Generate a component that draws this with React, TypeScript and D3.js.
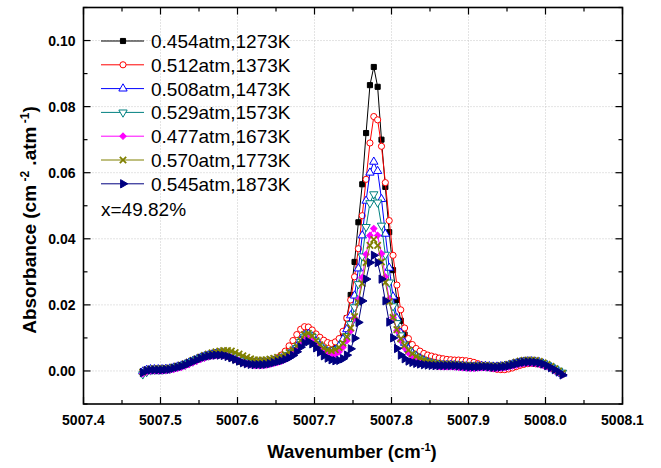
import * as d3 from "d3";

// wavenumber grid of the measured spectra (cm-1)
const wnStart = 5007.477;
const wnStep = 0.005;

// absorbance, in units of 1e-4 cm-2.atm-1, one value per grid point
const abs1273 = [
  -2, 2, 4, 4, 4, 4, 5, 6, 9, 12,
  15, 19, 24, 29, 34, 39, 43, 47, 49, 50,
  50, 48, 44, 39, 33, 28, 24, 22, 21, 21,
  21, 22, 24, 26, 29, 32, 36, 40, 46, 54,
  66, 82, 100, 106, 100, 88, 75, 66, 60, 62,
  72, 88, 115, 160, 230, 330, 450, 565, 720, 865,
  920, 860, 700, 557, 420, 305, 215, 152, 110, 82,
  64, 50, 40, 33, 28, 24, 21, 19, 18, 17,
  17, 17, 16, 15, 14, 13, 13, 13, 14, 14,
  13, 12, 12, 13, 14, 16, 19, 22, 25, 27,
  28, 28, 27, 25, 22, 17, 11, 5, -2, -10,
];
const abs1373 = [
  -3, 2, 5, 5, 5, 5, 6, 7, 10, 13,
  16, 20, 25, 30, 35, 40, 44, 48, 51, 53,
  54, 54, 52, 48, 43, 38, 33, 29, 26, 24,
  24, 25, 27, 30, 34, 40, 48, 60, 76, 92,
  110, 126, 134, 133, 124, 112, 102, 93, 86, 83,
  88, 98, 120, 160, 215, 285, 370, 470, 580, 690,
  770, 760, 680, 570, 455, 350, 260, 185, 130, 98,
  80, 68, 60, 53, 48, 45, 42, 39, 37, 35,
  34, 33, 33, 32, 31, 29, 26, 22, 18, 14,
  10, 7, 5, 4, 4, 6, 9, 13, 17, 20,
  22, 23, 22, 21, 18, 14, 9, 4, -2, -8,
];
const abs1473 = [
  -2, 3, 5, 5, 5, 5, 6, 7, 10, 13,
  16, 20, 25, 30, 35, 40, 44, 47, 50, 52,
  53, 53, 51, 48, 43, 38, 33, 29, 26, 25,
  24, 25, 26, 28, 31, 34, 38, 43, 50, 60,
  74, 92, 108, 112, 104, 90, 76, 65, 59, 58,
  64, 76, 96, 126, 168, 228, 310, 410, 515, 600,
  633, 605, 520, 415, 312, 225, 160, 115, 85, 66,
  54, 45, 38, 32, 27, 23, 21, 19, 18, 18,
  18, 17, 16, 15, 14, 13, 13, 14, 15, 15,
  14, 13, 13, 14, 15, 17, 20, 23, 26, 28,
  29, 29, 28, 26, 22, 17, 11, 5, -2, -9,
];
const abs1573 = [
  -10, -3, 2, 4, 4, 4, 5, 6, 9, 12,
  15, 19, 24, 29, 34, 39, 43, 47, 50, 52,
  53, 53, 52, 49, 44, 39, 34, 30, 27, 25,
  24, 24, 25, 27, 30, 33, 37, 42, 48, 57,
  70, 88, 104, 110, 103, 89, 74, 62, 55, 53,
  57, 66, 82, 106, 142, 193, 263, 347, 436, 508,
  535, 510, 440, 352, 268, 196, 145, 108, 80, 62,
  50, 41, 35, 30, 26, 23, 21, 20, 19, 18,
  18, 17, 16, 15, 14, 14, 14, 14, 15, 15,
  14, 13, 13, 14, 15, 17, 20, 23, 26, 28,
  29, 29, 28, 26, 23, 18, 13, 7, 1, -5,
];
const abs1673 = [
  -8, -3, 0, 1, 1, 1, 2, 3, 5, 8,
  11, 15, 20, 25, 30, 35, 39, 43, 46, 47,
  48, 47, 45, 41, 36, 31, 26, 22, 19, 17,
  17, 17, 18, 20, 23, 26, 30, 35, 41, 50,
  63, 80, 95, 100, 94, 81, 67, 56, 49, 47,
  50, 58, 72, 92, 122, 160, 216, 283, 353, 410,
  431, 410, 355, 285, 218, 162, 122, 92, 70, 55,
  44, 36, 30, 25, 21, 18, 16, 14, 13, 13,
  13, 12, 11, 10, 9, 8, 8, 9, 10, 10,
  9, 8, 8, 9, 10, 12, 15, 18, 21, 23,
  24, 24, 23, 21, 18, 14, 8, 2, -4, -11,
];
const abs1773 = [
  -3, 3, 6, 7, 7, 7, 8, 9, 12, 15,
  18, 22, 27, 32, 37, 42, 47, 51, 55, 58,
  60, 62, 62, 60, 56, 51, 46, 41, 37, 34,
  33, 33, 34, 36, 38, 41, 45, 50, 56, 64,
  76, 93, 110, 114, 106, 92, 79, 69, 63, 61,
  64, 71, 84, 104, 130, 165, 208, 265, 328, 380,
  398, 380, 330, 268, 210, 162, 125, 97, 78, 63,
  52, 44, 38, 33, 29, 26, 24, 22, 21, 21,
  21, 20, 19, 18, 17, 16, 16, 16, 17, 17,
  16, 15, 15, 16, 18, 20, 23, 27, 30, 32,
  33, 33, 32, 29, 25, 20, 14, 7, 0, -7,
];
const abs1873 = [
  -5, 1, 3, 3, 3, 3, 4, 5, 8, 11,
  14, 18, 23, 28, 33, 38, 42, 45, 47, 48,
  48, 47, 44, 40, 35, 30, 25, 22, 20, 19,
  19, 19, 20, 22, 25, 28, 31, 35, 40, 47,
  58, 72, 85, 89, 82, 70, 57, 46, 39, 34,
  31, 32, 37, 48, 67, 99, 147, 212, 278, 328,
  350, 328, 278, 212, 148, 100, 68, 48, 37, 30,
  26, 23, 21, 19, 18, 17, 16, 16, 16, 16,
  16, 16, 15, 14, 13, 12, 12, 12, 13, 13,
  12, 11, 11, 12, 13, 15, 18, 21, 24, 26,
  27, 27, 26, 24, 21, 16, 10, 4, -3, -12,
];

const seriesLabels = [
  "0.454atm,1273K",
  "0.512atm,1373K",
  "0.508atm,1473K",
  "0.529atm,1573K",
  "0.477atm,1673K",
  "0.570atm,1773K",
  "0.545atm,1873K",
];
const seriesValues = [abs1273, abs1373, abs1473, abs1573, abs1673, abs1773, abs1873];
const mixLabel = "x=49.82%";

const xTicks = [5007.4, 5007.5, 5007.6, 5007.7, 5007.8, 5007.9, 5008.0, 5008.1];
const yTicks = [0, 0.02, 0.04, 0.06, 0.08, 0.1];

// marker styles, Origin-like
const styles = [
  { color: "#000000", shape: d3.symbolSquare, size: 26, fill: true, rot: 0 },
  { color: "#ff0000", shape: d3.symbolCircle, size: 30, fill: false, rot: 0 },
  { color: "#0000ff", shape: d3.symbolTriangle, size: 30, fill: false, rot: 0 },
  { color: "#008080", shape: d3.symbolTriangle, size: 30, fill: false, rot: 180 },
  { color: "#ff00ff", shape: d3.symbolSquare, size: 20, fill: true, rot: 45 },
  { color: "#808000", shape: d3.symbolTimes, size: 28, fill: false, rot: 0, cross: true },
  { color: "#000080", shape: d3.symbolTriangle, size: 30, fill: true, rot: 90 },
];

const W = 661;
const H = 468;
const plotLeft = 83.5;
const plotRight = 622.5;
const plotTop = 7.5;
const plotBottom = 404;
const font = "Arial, 'Liberation Sans', sans-serif";

function Marker({ st, x, y }) {
  const d = d3.symbol(st.shape, st.size)();
  return (
    <path
      d={d}
      transform={`translate(${x},${y}) rotate(${st.rot})`}
      fill={st.cross ? "none" : st.fill ? st.color : "#ffffff"}
      stroke={st.color}
      strokeWidth={st.cross ? 1.8 : 1}
    />
  );
}

export default function App() {
  const x = d3.scaleLinear().domain([5007.4, 5008.1]).range([plotLeft, plotRight]);
  const y = d3.scaleLinear().domain([-0.01, 0.11]).range([plotBottom, plotTop]);

  const series = seriesValues.map((vals) =>
    vals.map((v, k) => ({ wn: wnStart + wnStep * k, a: v * 1e-4 }))
  );
  const line = d3
    .line<{ wn: number; a: number }>()
    .x((d) => x(d.wn))
    .y((d) => y(d.a));

  const xMinor = xTicks.slice(0, -1).map((t) => t + 0.05);
  const yMinor = [-0.01, ...yTicks.map((t) => t + 0.01)];

  const legendX = 101;
  const legendY0 = 41;
  const legendDy = 23.8;

  return (
    <svg
      width={W}
      height={H}
      style={{ position: "absolute", left: 0, top: 0, background: "#fff" }}
      fontFamily={font}
    >
      {/* grid */}
      <g stroke="#c8c8c8" strokeWidth={1} strokeDasharray="1,2">
        {xTicks.slice(1, -1).map((t) => (
          <line key={t} x1={x(t)} x2={x(t)} y1={plotTop} y2={plotBottom} />
        ))}
        {yTicks.map((t) => (
          <line key={t} x1={plotLeft} x2={plotRight} y1={y(t)} y2={y(t)} />
        ))}
      </g>

      {/* curves */}
      {series.map((pts, i) => (
        <g key={i}>
          <path d={line(pts)} fill="none" stroke={styles[i].color} strokeWidth={1} />
          {pts.map((p, k) => (
            <Marker key={k} st={styles[i]} x={x(p.wn)} y={y(p.a)} />
          ))}
        </g>
      ))}

      {/* frame and ticks */}
      <g stroke="#000" strokeWidth={1.2}>
        {xTicks.map((t) => (
          <g key={t}>
            <line x1={x(t)} x2={x(t)} y1={plotBottom} y2={plotBottom - 7} />
            <line x1={x(t)} x2={x(t)} y1={plotTop} y2={plotTop + 7} />
          </g>
        ))}
        {xMinor.map((t) => (
          <g key={t}>
            <line x1={x(t)} x2={x(t)} y1={plotBottom} y2={plotBottom - 4} />
            <line x1={x(t)} x2={x(t)} y1={plotTop} y2={plotTop + 4} />
          </g>
        ))}
        {yTicks.map((t) => (
          <g key={t}>
            <line x1={plotLeft} x2={plotLeft + 7} y1={y(t)} y2={y(t)} />
            <line x1={plotRight} x2={plotRight - 7} y1={y(t)} y2={y(t)} />
          </g>
        ))}
        {yMinor.map((t) => (
          <g key={t}>
            <line x1={plotLeft} x2={plotLeft + 4} y1={y(t)} y2={y(t)} />
            <line x1={plotRight} x2={plotRight - 4} y1={y(t)} y2={y(t)} />
          </g>
        ))}
        <rect
          x={plotLeft}
          y={plotTop}
          width={plotRight - plotLeft}
          height={plotBottom - plotTop}
          fill="none"
          strokeWidth={1.6}
        />
      </g>

      {/* tick labels */}
      <g fontWeight="bold" fontSize={14} fill="#000">
        {xTicks.map((t) => (
          <text key={t} x={x(t)} y={plotBottom + 21} textAnchor="middle">
            {d3.format(".1f")(t)}
          </text>
        ))}
        {yTicks.map((t) => (
          <text key={t} x={plotLeft - 8} y={y(t) + 5} textAnchor="end">
            {d3.format(".2f")(t)}
          </text>
        ))}
      </g>

      {/* axis titles */}
      <text x={352} y={458} textAnchor="middle" fontWeight="bold" fontSize={18.5}>
        Wavenumber (cm<tspan dy={-7} fontSize={11}>-1</tspan>
        <tspan dy={7}>)</tspan>
      </text>
      <text
        transform={`translate(36,${220}) rotate(-90)`}
        textAnchor="middle"
        fontWeight="bold"
        fontSize={19}
      >
        Absorbance (cm<tspan dy={-7} fontSize={12}> -2</tspan>
        <tspan dy={7}> .atm</tspan>
        <tspan dy={-7} fontSize={12}> -1</tspan>
        <tspan dy={7}>)</tspan>
      </text>

      {/* legend */}
      {seriesLabels.map((lab, i) => {
        const ly = legendY0 + legendDy * i;
        return (
          <g key={lab}>
            <line x1={legendX} x2={legendX + 43} y1={ly} y2={ly} stroke={styles[i].color} strokeWidth={1} />
            <Marker st={styles[i]} x={legendX + 22} y={ly} />
            <text x={legendX + 50} y={ly + 7} fontSize={19}>
              {lab}
            </text>
          </g>
        );
      })}
      <text x={legendX} y={legendY0 + legendDy * 7 + 8} fontSize={19}>
        {mixLabel}
      </text>
    </svg>
  );
}
